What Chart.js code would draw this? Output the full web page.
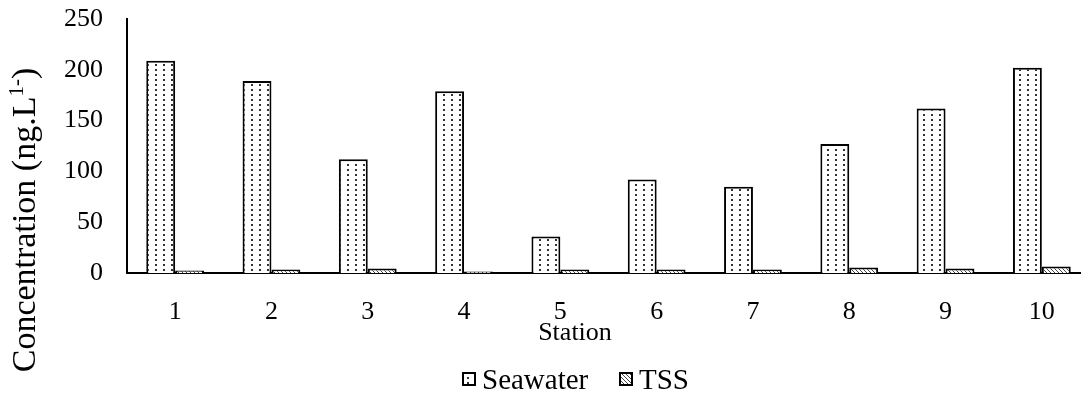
<!DOCTYPE html>
<html>
<head>
<meta charset="utf-8">
<script src="https://cdn.jsdelivr.net/npm/chart.js@4.4.1/dist/chart.umd.min.js"></script>
<style>
  html, body { margin: 0; padding: 0; background: #fff; overflow: hidden; }
  #wrap { width: 1090px; height: 416px; margin-top: -18px; position: relative; }
</style>
</head>
<body>
<div id="wrap"><canvas id="chart"></canvas></div>
<script>
// Station concentrations
const stations = ['1', '2', '3', '4', '5', '6', '7', '8', '9', '10'];
const seawater = [209, 189, 112, 179, 36, 92, 85, 127, 162, 202];
const tss = [2.5, 3.5, 4.5, 1.5, 3.5, 3.5, 3.5, 5.5, 4.5, 6.5];
const yTicks = [0, 50, 100, 150, 200, 250];

const FONT = "'Liberation Serif', 'Times New Roman', serif";
const OFF = 18; // canvas is shifted up by this much

function dotPattern() {
    const c = document.createElement('canvas');
    c.width = 8; c.height = 5;
    const g = c.getContext('2d');
    g.fillStyle = '#fff';
    g.fillRect(0, 0, 8, 5);
    g.fillStyle = '#333';
    g.fillRect(3, 2, 2, 2);
    return g.createPattern(c, 'repeat');
}

function hatchPattern() {
    const c = document.createElement('canvas');
    c.width = 4; c.height = 4;
    const g = c.getContext('2d');
    g.fillStyle = '#fff';
    g.fillRect(0, 0, 4, 4);
    g.strokeStyle = '#444';
    g.lineWidth = 1;
    g.beginPath();
    g.moveTo(0, 0); g.lineTo(4, 4);
    g.stroke();
    return g.createPattern(c, 'repeat');
}

const dots = dotPattern();
const hatch = hatchPattern();

// titles + legend drawn by hand so they sit where the original has them
const extras = {
    id: 'extras',
    afterDraw(chart) {
        const ctx = chart.ctx;
        ctx.save();
        ctx.translate(0, OFF);
        ctx.fillStyle = '#000';

        // y title with superscript
        ctx.save();
        ctx.translate(35, 220);
        ctx.rotate(-Math.PI / 2);
        ctx.textBaseline = 'alphabetic';
        const main = 'Concentration (ng.L';
        const sup = '1-';
        const end = ')';
        ctx.font = '34px ' + FONT;
        const w1 = ctx.measureText(main).width;
        const w3 = ctx.measureText(end).width;
        ctx.font = '21px ' + FONT;
        const w2 = ctx.measureText(sup).width;
        let x = -(w1 + w2 + w3) / 2;
        ctx.font = '34px ' + FONT;
        ctx.fillText(main, x, 0);
        ctx.font = '21px ' + FONT;
        ctx.fillText(sup, x + w1, -12);
        ctx.font = '34px ' + FONT;
        ctx.fillText(end, x + w1 + w2, 0);
        ctx.restore();

        // x title
        ctx.font = '26px ' + FONT;
        ctx.textAlign = 'center';
        ctx.textBaseline = 'alphabetic';
        ctx.fillText('Station', 575, 340);

        // legend
        const items = [
            { label: 'Seawater', fill: dots, x: 463 },
            { label: 'TSS', fill: hatch, x: 620 }
        ];
        ctx.textAlign = 'left';
        items.forEach(it => {
            ctx.fillStyle = it.fill;
            ctx.fillRect(it.x, 373, 12, 12);
            ctx.strokeStyle = '#000';
            ctx.lineWidth = 2;
            ctx.strokeRect(it.x, 373, 12, 12);
            ctx.fillStyle = '#000';
            ctx.font = '29px ' + FONT;
            ctx.fillText(it.label, it.x + 19, 389);
        });
        ctx.restore();
    }
};

new Chart(document.getElementById('chart'), {
    type: 'bar',
    data: {
        labels: stations,
        datasets: [
            {
                label: 'Seawater',
                data: seawater,
                backgroundColor: dots,
                borderColor: '#000',
                borderWidth: 2,
                borderSkipped: 'bottom'
            },
            {
                label: 'TSS',
                data: tss,
                backgroundColor: hatch,
                borderColor: '#000',
                borderWidth: 2,
                borderSkipped: 'bottom'
            }
        ]
    },
    options: {
        responsive: true,
        maintainAspectRatio: false,
        animation: false,
        layout: { padding: { top: 0, right: 0, bottom: 0, left: 0 } },
        datasets: {
            bar: { categoryPercentage: 0.6, barPercentage: 1.0 }
        },
        plugins: {
            legend: { display: false },
            tooltip: { enabled: false }
        },
        scales: {
            x: {
                grid: { display: false, drawTicks: false },
                border: { display: true, color: '#000', width: 2 },
                ticks: {
                    color: '#000',
                    font: { family: FONT, size: 26 },
                    padding: 24
                },
                afterFit(scale) { scale.height = 125; }
            },
            y: {
                min: 0,
                max: 250,
                afterBuildTicks(scale) {
                    scale.ticks = yTicks.map(v => ({ value: v }));
                },
                grid: { display: false, drawTicks: false },
                border: { display: true, color: '#000', width: 2 },
                ticks: {
                    color: '#000',
                    font: { family: FONT, size: 26, lineHeight: 1.0 },
                    padding: 24
                },
                afterFit(scale) { scale.width = 127; }
            }
        }
    },
    plugins: [extras]
});
</script>
</body>
</html>
